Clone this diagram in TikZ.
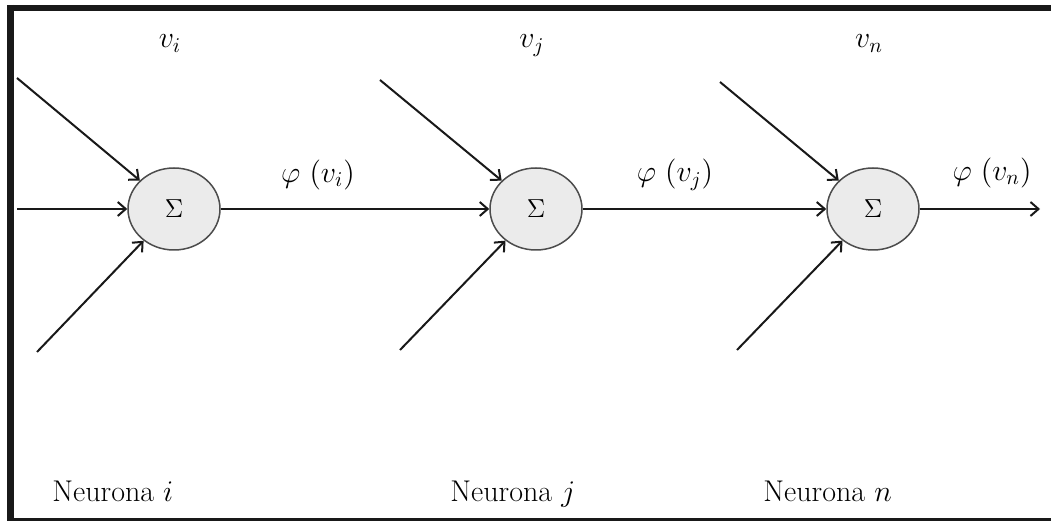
\documentclass[tikz,border=0pt]{standalone}
\usepackage{fix-cm}
\usetikzlibrary{shapes.geometric,arrows.meta}
\begin{document}
\begin{tikzpicture}[x=0.5pt,y=-0.5pt,
  neuron/.style={ellipse,draw=black!70,line width=0.75pt,fill=black!8,
    minimum width=46pt,minimum height=41pt,inner sep=0pt,
    font=\fontsize{13}{15}\selectfont},
  conn/.style={line width=1pt,draw=black!90,-{Straight Barb[length=4pt,width=7pt,line width=1pt]}},
  lab/.style={font=\fontsize{15}{18}\selectfont,inner sep=0pt},
  framel/.style={draw=black!90}]
\useasboundingbox (0,0) rectangle (1051,523);
\fill[white] (0,0) rectangle (1051,523);
% frame
\draw[framel,line width=3pt] (7,8) -- (1051,8);
\draw[framel,line width=3.5pt] (10.5,5) -- (10.5,521);
\draw[framel,line width=1.7pt] (7,519.5) -- (1051,519.5);
% neurons
\node[neuron] (n1) at (174,209) {$\Sigma$};
\node[neuron] (n2) at (536,209) {$\Sigma$};
\node[neuron] (n3) at (873,209) {$\Sigma$};
% free ends
\coordinate (a1) at (17,78);
\coordinate (b1) at (17,209);
\coordinate (c1) at (37,352);
\coordinate (a2) at (380,80);
\coordinate (c2) at (400,350);
\coordinate (a3) at (720,82);
\coordinate (c3) at (737,350);
\coordinate (out) at (1040,209);
% connectors
\draw[conn] (a1) -- (n1);
\draw[conn] (b1) -- (n1);
\draw[conn] (c1) -- (n1);
\draw[conn] (a2) -- (n2);
\draw[conn] (n1) -- (n2);
\draw[conn] (c2) -- (n2);
\draw[conn] (a3) -- (n3);
\draw[conn] (n2) -- (n3);
\draw[conn] (c3) -- (n3);
\draw[conn] (n3) -- (out);
% labels
\node[lab,anchor=base] (vi) at (170,48) {$v_i$};
\node[lab,anchor=base] (vj) at (532,48) {$v_j$};
\node[lab,anchor=base] (vn) at (869,48) {$v_n$};
\node[lab] (pi) at (318,175) {$\varphi\ (v_i)$};
\node[lab] (pj) at (675,175) {$\varphi\ (v_j)$};
\node[lab] (pn) at (992,173) {$\varphi\ (v_n)$};
\node[lab,anchor=base west] (ni) at (52,502) {Neurona $i$};
\node[lab,anchor=base west] (nj) at (450,502) {Neurona $j$};
\node[lab,anchor=base west] (nn) at (763,502) {Neurona $n$};
\end{tikzpicture}
\end{document}
